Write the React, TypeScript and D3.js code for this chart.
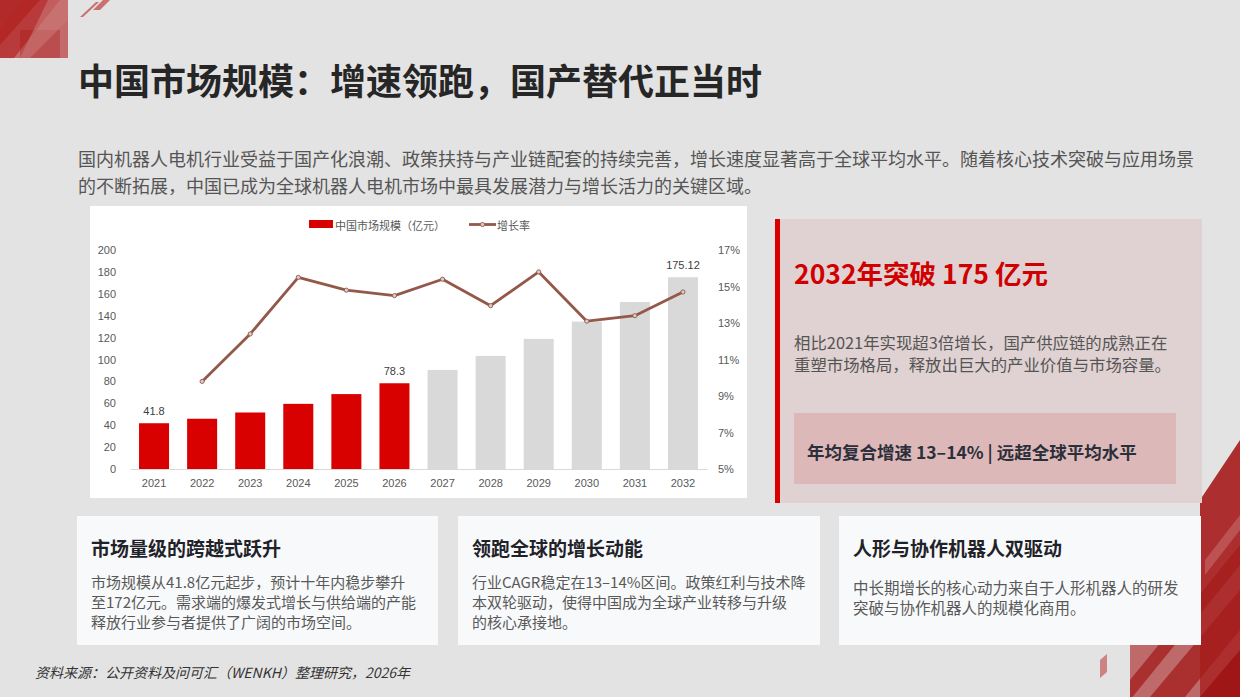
import React, { useEffect, useRef } from 'react';
import * as d3 from 'd3';

// ---------- data ----------
const years = ['2021', '2022', '2023', '2024', '2025', '2026', '2027', '2028', '2029', '2030', '2031', '2032'];
const marketSize = [41.8, 45.9, 51.6, 59.5, 68.4, 78.3, 90.5, 103.3, 118.8, 134.6, 152.5, 175.12];
const growthRate: (number | null)[] = [null, 9.8, 12.4, 15.5, 14.8, 14.5, 15.4, 13.95, 15.8, 13.1, 13.4, 14.7];
const actualCount = 6; // 2021–2026 in red, forecasts in grey
const labeledYears = ['2021', '2026', '2032'];
const leftTicks = [0, 20, 40, 60, 80, 100, 120, 140, 160, 180, 200];
const rightTicks = [5, 7, 9, 11, 13, 15, 17];
const legendBar = '中国市场规模（亿元）';
const legendLine = '增长率';

const title = '中国市场规模：增速领跑，国产替代正当时';
const intro = [
  '国内机器人电机行业受益于国产化浪潮、政策扶持与产业链配套的持续完善，增长速度显著高于全球平均水平。随着核心技术突破与应用场景',
  '的不断拓展，中国已成为全球机器人电机市场中最具发展潜力与增长活力的关键区域。',
];
const panelTitle = '2032年突破 175 亿元';
const panelBody = [
  '相比2021年实现超3倍增长，国产供应链的成熟正在',
  '重塑市场格局，释放出巨大的产业价值与市场容量。',
];
const panelBox = '年均复合增速 13–14% | 远超全球平均水平';
const cardTitles = ['市场量级的跨越式跃升', '领跑全球的增长动能', '人形与协作机器人双驱动'];
const cardBodies = [
  ['市场规模从41.8亿元起步，预计十年内稳步攀升', '至172亿元。需求端的爆发式增长与供给端的产能', '释放行业参与者提供了广阔的市场空间。'],
  ['行业CAGR稳定在13–14%区间。政策红利与技术降', '本双轮驱动，使得中国成为全球产业转移与升级', '的核心承接地。'],
  ['中长期增长的核心动力来自于人形机器人的研发', '突破与协作机器人的规模化商用。'],
];
const source = '资料来源：公开资料及问可汇（WENKH）整理研究，2026年';

const FONT = "'Noto Sans CJK SC', 'Noto Sans', sans-serif";
const RED = '#D90000';
const GREY_BAR = '#D9D9D9';
const LINE = '#935849';
const AXIS_TXT = '#595959';

function Chart() {
  const ref = useRef<SVGGElement>(null);
  useEffect(() => {
    const g = d3.select(ref.current);
    g.selectAll('*').remove();
    const x = d3.scaleBand<string>().domain(years).range([130, 707]).paddingInner(0.376).paddingOuter(0.188);
    const yL = d3.scaleLinear().domain([0, 200]).range([469, 250]);
    const yR = d3.scaleLinear().domain([5, 17]).range([469, 250]);

    // bars
    g.append('g')
      .selectAll('rect')
      .data(marketSize)
      .join('rect')
      .attr('x', (_, i) => x(years[i])!)
      .attr('y', (d) => yL(d))
      .attr('width', x.bandwidth())
      .attr('height', (d) => yL(0) - yL(d))
      .attr('fill', (_, i) => (i < actualCount ? RED : GREY_BAR));

    // x axis
    const xa = g.append('g').attr('transform', 'translate(0,469)').call(d3.axisBottom(x).tickSize(0).tickSizeOuter(0).tickPadding(10));
    xa.select('.domain').attr('stroke', '#D9D9D9').attr('stroke-width', 1);
    xa.selectAll('text').attr('fill', AXIS_TXT).attr('font-size', 11).attr('font-family', "'Liberation Sans', sans-serif");

    // left axis
    const la = g.append('g').attr('transform', 'translate(117,0)').call(d3.axisLeft(yL).tickValues(leftTicks).tickSize(0).tickPadding(1));
    la.select('.domain').remove();
    la.selectAll('text').attr('fill', AXIS_TXT).attr('font-size', 11).attr('font-family', "'Liberation Sans', sans-serif");

    // right axis
    const ra = g.append('g').attr('transform', 'translate(717,0)').call(
      d3.axisRight(yR).tickValues(rightTicks).tickSize(0).tickPadding(1).tickFormat((d) => `${d}%`)
    );
    ra.select('.domain').remove();
    ra.selectAll('text').attr('fill', AXIS_TXT).attr('font-size', 11).attr('font-family', "'Liberation Sans', sans-serif");

    // line
    const pts = growthRate
      .map((v, i) => ({ v, i }))
      .filter((p) => p.v !== null) as { v: number; i: number }[];
    const line = d3
      .line<{ v: number; i: number }>()
      .x((p) => x(years[p.i])! + x.bandwidth() / 2)
      .y((p) => yR(p.v));
    g.append('path').attr('d', line(pts)!).attr('fill', 'none').attr('stroke', LINE).attr('stroke-width', 2.8).attr('stroke-linejoin', 'round');
    g.append('g')
      .selectAll('circle')
      .data(pts)
      .join('circle')
      .attr('cx', (p) => x(years[p.i])! + x.bandwidth() / 2)
      .attr('cy', (p) => yR(p.v))
      .attr('r', 2.1)
      .attr('fill', '#D8CCC8')
      .attr('stroke', LINE)
      .attr('stroke-width', 0.9);

    // data labels
    g.append('g')
      .selectAll('text')
      .data(marketSize.map((v, i) => ({ v, y: years[i] })).filter((d) => labeledYears.includes(d.y)))
      .join('text')
      .attr('x', (d) => x(d.y)! + x.bandwidth() / 2)
      .attr('y', (d) => yL(d.v) - 12)
      .attr('text-anchor', 'middle')
      .attr('dominant-baseline', 'central')
      .attr('font-size', 11)
      .attr('font-family', "'Liberation Sans', sans-serif")
      .attr('fill', '#404040')
      .text((d) => String(d.v));

    // legend
    const lg = g.append('g');
    lg.append('rect').attr('x', 309).attr('y', 220).attr('width', 24).attr('height', 8).attr('fill', RED);
    lg.append('text').attr('x', 335).attr('y', 224.5).attr('dominant-baseline', 'central').attr('font-size', 11).attr('font-family', FONT).attr('fill', AXIS_TXT).text(legendBar);
    lg.append('line').attr('x1', 469).attr('x2', 496).attr('y1', 224.5).attr('y2', 224.5).attr('stroke', LINE).attr('stroke-width', 2.8);
    lg.append('circle').attr('cx', 482.5).attr('cy', 224.5).attr('r', 2.1).attr('fill', '#D8CCC8').attr('stroke', LINE).attr('stroke-width', 0.9);
    lg.append('text').attr('x', 497).attr('y', 224.5).attr('dominant-baseline', 'central').attr('font-size', 11).attr('font-family', FONT).attr('fill', AXIS_TXT).text(legendLine);
  }, []);
  return <g ref={ref} />;
}

export default function App() {
  useEffect(() => {
    document.body.style.margin = '0';
  }, []);
  const cardX = [77, 458, 839];
  const cardW = [361, 362, 362];
  const cardFont = [15, 15, 15.5];
  return (
    <svg width={1240} height={697} style={{ position: 'absolute', left: 0, top: 0, display: 'block' }} fontFamily={FONT}>
      <defs>
        <clipPath id="brClip">
          <polygon points="1130,645 1200,645 1200,500 1240,440 1240,697 1130,697" />
        </clipPath>
        <clipPath id="tlClip">
          <rect x={0} y={0} width={68} height={58} />
        </clipPath>
      </defs>
      <rect x={0} y={0} width={1240} height={697} fill="#E3E3E3" />

      {/* top-left decoration */}
      <g clipPath="url(#tlClip)">
        <rect x={0} y={0} width={68} height={58} fill="#C46A6A" />
        <polygon points="0,0 40,0 0,45" fill="#B01E1E" opacity={0.85} />
        <polygon points="22,0 60,0 14,58 0,58 0,30" fill="#B52727" opacity={0.7} />
        <polygon points="20,30 60,30 60,58 20,58" fill="#A81818" opacity={0.35} />
        <polygon points="48,0 68,0 68,20 30,58 20,58" fill="#C97777" opacity={0.6} />
      </g>
      <polygon points="80,17 96,2 99,2 83,17" fill="#C25454" opacity={0.8} />
      <polygon points="93,10 103,0 110,0 100,10" fill="#C25454" opacity={0.8} />

      {/* bottom-right decoration */}
      <g clipPath="url(#brClip)">
        <rect x={1100} y={430} width={140} height={267} fill="#BE6A6A" />
        <polygon points="1150,697 1240,590 1240,630 1185,697" fill="#A52222" opacity={0.8} />
        <polygon points="1130,680 1240,545 1240,565 1130,700" fill="#A52222" opacity={0.8} />
        <polygon points="1200,500 1240,440 1240,697 1200,697" fill="#A61B1B" opacity={0.75} />
        <polygon points="1205,560 1240,515 1240,530 1205,575" fill="#C66A6A" opacity={0.6} />
        <polygon points="1200,697 1240,650 1240,697" fill="#9E1010" opacity={0.8} />
      </g>
      <polygon points="1100,660 1107,654 1107,672 1100,678" fill="#C46A6A" opacity={0.8} />

      {/* title */}
      <text x={78} y={79} fontSize={36} fontWeight={700} fill="#262626" dominantBaseline="central">
        {title}
      </text>
      {intro.map((l, i) => (
        <text key={i} x={78} y={158 + i * 27} fontSize={18} fill="#555555" dominantBaseline="central">
          {l}
        </text>
      ))}

      {/* chart box */}
      <rect x={90} y={206} width={657} height={292} fill="#FFFFFF" />
      <Chart />

      {/* right panel */}
      <rect x={775} y={219} width={427} height={284} fill="#E0D2D2" />
      <rect x={775} y={219} width={5} height={284} fill={RED} />
      <text x={794} y={272} fontSize={26.5} fontWeight={700} fill="#D00000" dominantBaseline="central">
        {panelTitle}
      </text>
      {panelBody.map((l, i) => (
        <text key={i} x={794} y={342 + i * 22} fontSize={16.4} fill="#555555" dominantBaseline="central">
          {l}
        </text>
      ))}
      <rect x={794} y={413} width={382} height={71} fill="#DDB8B8" />
      <text x={807} y={451} fontSize={17.5} fontWeight={700} fill="#2B2F3A" dominantBaseline="central">
        {panelBox}
      </text>

      {/* cards */}
      {cardTitles.map((t, i) => (
        <g key={i}>
          <rect x={cardX[i]} y={516} width={cardW[i]} height={129} fill="#F8F9FB" />
          <text x={cardX[i] + 14} y={547} fontSize={19} fontWeight={700} fill="#1F2329" dominantBaseline="central">
            {t}
          </text>
          {cardBodies[i].map((l, j) => (
            <text
              key={j}
              x={cardX[i] + 14}
              y={(i === 2 ? 587 : 581) + j * 20}
              fontSize={cardFont[i]}
              fill="#595959"
              dominantBaseline="central"
            >
              {l}
            </text>
          ))}
        </g>
      ))}

      {/* source */}
      <text x={35} y={672} fontSize={14} fontStyle="italic" fill="#333333" dominantBaseline="central">
        {source}
      </text>
    </svg>
  );
}
